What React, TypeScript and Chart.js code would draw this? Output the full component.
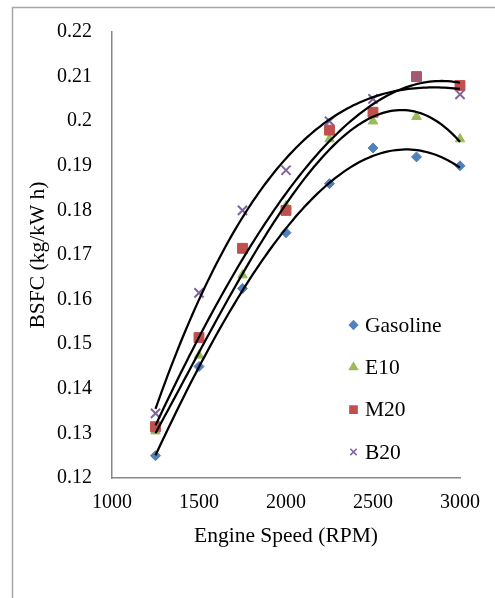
import React, { useEffect, useRef } from "react";
import { Chart, registerables } from "chart.js";
import { drawPoint } from "chart.js/helpers";

Chart.register(...registerables);

const speeds = [1250, 1500, 1750, 2000, 2250, 2500, 2750, 3000];
const gasoline = [0.125, 0.145, 0.1625, 0.175, 0.186, 0.194, 0.192, 0.19];
const e10 = [0.1305, 0.1475, 0.1655, 0.181, 0.196, 0.2, 0.201, 0.196];
const m20 = [0.1315, 0.1515, 0.1715, 0.18, 0.198, 0.202, 0.21, 0.208];
const b20 = [0.1345, 0.1615, 0.18, 0.189, 0.2, 0.205, 0.21, 0.206];
const seriesNames = ["Gasoline", "E10", "M20", "B20"];
const seriesValues = [gasoline, e10, m20, b20];
const seriesColors = ["#4F81BD", "#9BBB59", "#C0504D", "#8064A2"];
const seriesStyles = ["rectRot", "triangle", "rect", "crossRot"];
const xTicks = [1000, 1500, 2000, 2500, 3000];
const yTicks = [0.12, 0.13, 0.14, 0.15, 0.16, 0.17, 0.18, 0.19, 0.2, 0.21, 0.22];
const xTitle = "Engine Speed (RPM)";
const yTitle = "BSFC (kg/kW h)";

const FONT = "'Liberation Serif', 'Times New Roman', serif";
const TREND_ORDER = 3;

// least-squares polynomial trendline
function polyFit(xs: number[], ys: number[], order: number) {
  const n = order + 1;
  const A: number[][] = [];
  for (let r = 0; r < n; r++) {
    const row: number[] = [];
    for (let c = 0; c < n; c++) {
      row.push(xs.reduce((a, x) => a + Math.pow(x / 1000, r + c), 0));
    }
    row.push(xs.reduce((a, x, i) => a + Math.pow(x / 1000, r) * ys[i], 0));
    A.push(row);
  }
  for (let i = 0; i < n; i++) {
    let p = i;
    for (let k = i + 1; k < n; k++) if (Math.abs(A[k][i]) > Math.abs(A[p][i])) p = k;
    [A[i], A[p]] = [A[p], A[i]];
    for (let k = i + 1; k < n; k++) {
      const f = A[k][i] / A[i][i];
      for (let j = i; j <= n; j++) A[k][j] -= f * A[i][j];
    }
  }
  const c = new Array(n).fill(0);
  for (let i = n - 1; i >= 0; i--) {
    let v = A[i][n];
    for (let j = i + 1; j < n; j++) v -= A[i][j] * c[j];
    c[i] = v / A[i][i];
  }
  return (x: number) => c.reduce((a, ci, i) => a + ci * Math.pow(x / 1000, i), 0);
}

function trendPoints(ys: number[]) {
  const f = polyFit(speeds, ys, TREND_ORDER);
  const x0 = speeds[0];
  const x1 = speeds[speeds.length - 1];
  const pts = [];
  const n = 100;
  for (let i = 0; i <= n; i++) {
    const x = x0 + ((x1 - x0) * i) / n;
    pts.push({ x, y: f(x) });
  }
  return pts;
}

const framePlugin = {
  id: "frame",
  beforeDraw(chart: any) {
    const ctx = chart.ctx;
    ctx.save();
    ctx.fillStyle = "#ffffff";
    ctx.fillRect(0, 0, chart.width, chart.height);
    ctx.strokeStyle = "#a6a6a6";
    ctx.lineWidth = 1.5;
    ctx.beginPath();
    ctx.moveTo(12.5, chart.height);
    ctx.lineTo(12.5, 7.5);
    ctx.lineTo(chart.width, 7.5);
    ctx.stroke();
    ctx.restore();
  },
};

const legendRadius = [4, 4.5, 5, 4.5];

const legendPlugin = {
  id: "innerLegend",
  afterDraw(chart: any) {
    const ctx = chart.ctx;
    const area = chart.chartArea;
    const mx = area.left + 241.5;
    const tx = area.left + 253;
    const y0 = area.top + 293;
    const step = 42.3;
    ctx.save();
    seriesNames.forEach((name, i) => {
      const y = y0 + step * i;
      ctx.fillStyle = seriesColors[i];
      ctx.strokeStyle = seriesColors[i];
      ctx.lineWidth = 1.6;
      drawPoint(ctx, { pointStyle: seriesStyles[i], radius: legendRadius[i], rotation: 0, borderWidth: 1.6 } as any, mx, y);
      ctx.fillStyle = "#000000";
      ctx.font = `21.5px ${FONT}`;
      ctx.textAlign = "left";
      ctx.textBaseline = "middle";
      ctx.fillText(name, tx, y + 1);
    });
    ctx.restore();
  },
};

const pointRadius = [5, 5.5, 7, 6.5];

export default function App() {
  const ref = useRef<HTMLCanvasElement | null>(null);

  useEffect(() => {
    if (!ref.current) return;
    const scatterSets = seriesNames.map((name, i) => ({
      label: name,
      data: speeds.map((x, j) => ({ x, y: seriesValues[i][j] })),
      backgroundColor: seriesColors[i],
      borderColor: seriesColors[i],
      pointStyle: seriesStyles[i],
      pointRadius: pointRadius[i],
      pointBorderWidth: seriesStyles[i] === "crossRot" ? 2 : 1,
      showLine: false,
      clip: false,
      order: 4 - i,
    }));
    const trendSets = seriesValues.map((ys, i) => ({
      label: seriesNames[i] + " trend",
      data: trendPoints(ys),
      borderColor: "#000000",
      borderWidth: 2.25,
      pointRadius: 0,
      showLine: true,
      fill: false,
      tension: 0,
      clip: false,
      order: 0,
    }));

    const chart = new Chart(ref.current, {
      type: "scatter",
      data: { datasets: [...scatterSets, ...trendSets] as any },
      options: {
        responsive: false,
        animation: false,
        layout: { padding: { left: 0, top: 28, right: 35, bottom: 0 } },
        plugins: { legend: { display: false }, tooltip: { enabled: false } },
        scales: {
          x: {
            type: "linear",
            min: xTicks[0],
            max: xTicks[xTicks.length - 1],
            afterBuildTicks: (s: any) => {
              s.ticks = xTicks.map((v) => ({ value: v }));
            },
            grid: { display: false, drawTicks: false },
            border: { display: true, color: "#888888", width: 1.5 },
            ticks: {
              padding: 13,
              color: "#000000",
              font: { family: FONT, size: 20 },
              callback: (v: any) => String(v),
            },
            title: {
              display: true,
              text: xTitle,
              color: "#000000",
              font: { family: FONT, size: 21.5 },
              padding: { top: 0, bottom: 48.5 },
            },
            afterFit: (s: any) => {
              s.height = 120;
            },
          },
          y: {
            type: "linear",
            min: yTicks[0],
            max: yTicks[yTicks.length - 1],
            afterBuildTicks: (s: any) => {
              s.ticks = yTicks.map((v) => ({ value: v }));
            },
            grid: { display: false, drawTicks: false },
            border: { display: true, color: "#888888", width: 1.5 },
            ticks: {
              padding: 20,
              color: "#000000",
              font: { family: FONT, size: 20 },
              callback: (v: any) => String(Number(Number(v).toFixed(2))),
            },
            title: {
              display: true,
              text: yTitle,
              color: "#000000",
              font: { family: FONT, size: 21.5 },
              padding: { top: 25, bottom: 0 },
            },
            afterFit: (s: any) => {
              s.width = 112;
            },
          },
        },
      },
      plugins: [framePlugin, legendPlugin],
    });
    return () => chart.destroy();
  }, []);

  return (
    <div style={{ position: "fixed", left: 0, top: 0, width: 495, height: 598, background: "#fff" }}>
      <canvas ref={ref} width={495} height={598} style={{ display: "block" }} />
    </div>
  );
}
